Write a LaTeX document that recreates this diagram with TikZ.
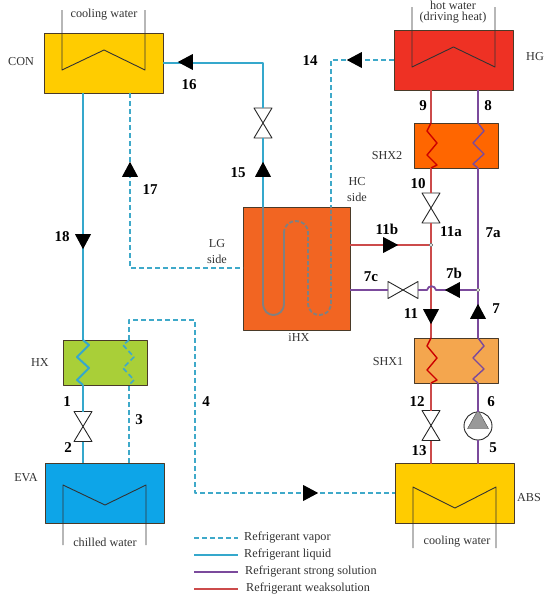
\documentclass[tikz,border=0pt]{standalone}
\usepackage{fontspec}
\setmainfont{Liberation Serif}
\usetikzlibrary{calc,shapes.geometric}
\definecolor{vapc}{HTML}{3FA9C9}
\definecolor{liqc}{HTML}{35A8CC}
\definecolor{strc}{HTML}{7B4A9C}
\definecolor{wkc}{HTML}{CC4B4B}
\definecolor{edgec}{HTML}{4A3A28}
\definecolor{txtc}{HTML}{333333}
\tikzset{schem/.style={
  x=1pt,y=-1pt,line join=round,
  vap/.style={vapc,line width=1.7pt,dash pattern=on 5pt off 3pt},
  liq/.style={liqc,line width=2pt},
  strong/.style={strc,line width=1.8pt},
  weak/.style={wkc,line width=1.8pt},
  unit/.style={draw=edgec,line width=1pt,inner sep=0pt,outer sep=0pt},
  large/.style={unit,minimum width=119pt,minimum height=60pt},
  small/.style={unit,minimum width=84pt,minimum height=45pt},
  coil/.style={draw=black!80,line width=0.9pt},
  valvenode/.style={inner sep=0pt,outer sep=0pt,minimum width=18pt,minimum height=30pt},
  valveline/.style={draw=black!85,line width=0.9pt},
  tipnode/.style={isosceles triangle,isosceles triangle stretches,fill=black,inner sep=0pt,
    minimum height=15pt,minimum width=16pt},
  joint/.style={circle,draw=black!60,fill=white,inner sep=0pt,minimum size=3.5pt,line width=0.4pt},
  lbl/.style={font=\fontsize{12.2}{14}\selectfont,text=txtc,inner sep=0pt},
  num/.style={font=\fontsize{15}{17}\selectfont\bfseries,inner sep=0pt}
}}

\begin{document}
\begin{tikzpicture}[schem]
  \useasboundingbox (0,0) rectangle (544,600);

  % main units
  \node[large,fill={rgb,255:red,255;green,204;blue,0}] (CON) at (103.5,63) {};
  \node[large,fill={rgb,255:red,238;green,49;blue,36}] (HG) at (453.5,60) {};
  \node[large,fill={rgb,255:red,13;green,165;blue,232}] (EVA) at (104.5,493) {};
  \node[large,fill={rgb,255:red,255;green,204;blue,0}] (ABS) at (454.5,493.5) {};
  \node[small,fill={rgb,255:red,255;green,102;blue,0}] (SHX2) at (456,145.5) {};
  \node[small,fill={rgb,255:red,244;green,166;blue,78}] (SHX1) at (456,360.5) {};
  \node[small,fill={rgb,255:red,169;green,207;blue,56}] (HX) at (105,362.5) {};
  \node[unit,fill={rgb,255:red,242;green,101;blue,34},minimum width=107pt,minimum height=123pt] (iHX) at (296.5,268.5) {};

  % coils
  \draw[coil] (62,10)--(62,70)--(104,50)--(145,70)--(145,10);
  \draw[coil] (412,7)--(412,67)--(453.5,47)--(495,67)--(495,7);
  \draw[coil] (63,545)--(63,485)--(105,505)--(146,485)--(146,545);
  \draw[coil] (413,548)--(413,487)--(455,508)--(496,487)--(496,548);

  % valves and pump
  \node[valvenode] (v1) at (83,426.5) {};
  \node[valvenode] (v15) at (263,123) {};
  \node[valvenode] (v10) at (431,208) {};
  \node[valvenode] (v12) at (431,425.5) {};
  \node[valvenode,minimum width=30pt,minimum height=17pt] (v7c) at (403,290) {};
  \node[circle,draw=black!85,fill=white,line width=0.9pt,inner sep=0pt,outer sep=0pt,minimum size=28pt] (pump) at (478,426) {};
  \node[isosceles triangle,isosceles triangle stretches,draw=black!70,fill=black!40,rotate=90,inner sep=0pt,
    minimum height=19pt,minimum width=21pt] (pumptri) at (478,422.5) {};
  \foreach \v in {v1,v15,v10,v12}
    \draw[valveline] (\v.north west)--(\v.south east)--(\v.south west)--(\v.north east)--cycle;
  \draw[valveline] (v7c.north west)--(v7c.south east)--(v7c.north east)--(v7c.south west)--cycle;

  % junctions
  \coordinate (hxaT) at (83,340);
  \coordinate (hxaB) at (83,385);
  \coordinate (hxbT) at (129,340);
  \coordinate (hxbB) at (129,385);
  \coordinate (shbT) at (431,123);
  \coordinate (shbB) at (431,168);
  \coordinate (shsT) at (478,123);
  \coordinate (shsB) at (478,168);
  \coordinate (sawT) at (431,338);
  \coordinate (sawB) at (431,383);
  \coordinate (sasT) at (478,338);
  \coordinate (sasB) at (478,383);
  \coordinate (lgT) at (263,207);
  \coordinate (hcT) at (331,207);
  \coordinate (c14) at (331,60);
  \coordinate (c16) at (263,63);
  \coordinate (c17a) at (130,93);
  \coordinate (c17b) at (130,268);
  \coordinate (c4a) at (129,320);
  \coordinate (c4b) at (195,320);
  \coordinate (c4c) at (195,493);
  \coordinate (hopL) at (427,290);
  \coordinate (hopR) at (436,290);
  \node[joint] (j11) at (431,245) {};
  \node[joint] (j7) at (478,290) {};

  % refrigerant liquid and vapor
  \draw[liq] (CON.south -| hxaT) -- (hxaT);
  \draw[liq] (hxaB) -- (v1);
  \draw[liq] (v1) -- (EVA.north -| v1);
  \draw[liq] (CON.east) -- (c16) -- (v15);
  \draw[liq] (v15) -- (lgT);
  \draw[liq] (hxaT) -- ++(6,5) -- ++(-12,12) -- ++(12,11) -- ++(-12,12) -- (hxaB);
  \draw[vap] (HG.west |- c14) -- (c14) -- (hcT);
  \draw[vap] (CON.south -| c17a) -- (c17b) -- (iHX.west |- c17b);
  \draw[vap] (EVA.north -| hxbB) -- (hxbB);
  \draw[vap] (hxbT) -- ++(-6,5) -- ++(11,12) -- ++(-11,11) -- ++(11,12) -- (hxbB);
  \draw[vap] (hxbT) -- (c4a) -- (c4b) -- (c4c) -- (ABS.west |- c4c);

  % serpentine of iHX
  \draw[gray,line width=1.9pt] (lgT) -- (263,303) .. controls (263,319) and (284,319) .. (284,303) -- (284,233);
  \draw[gray,line width=1.9pt,dash pattern=on 4pt off 2pt] (284,233) .. controls (284,217) and (308,217) .. (308,233)
    -- (308,303) .. controls (308,319) and (331,319) .. (331,303) -- (hcT);

  % solution lines
  \draw[weak] (HG.south -| shbT) -- (shbT);
  \draw[weak] (shbB) -- (v10);
  \draw[weak] (v10) -- (j11);
  \draw[weak] (j11) -- (sawT);
  \draw[weak] (iHX.east |- j11) -- (j11);
  \draw[weak] (sawB) -- (v12);
  \draw[weak] (v12) -- (ABS.north -| v12);
  \draw[strong] (HG.south -| shsT) -- (shsT);
  \draw[strong] (shsB) -- (j7);
  \draw[strong] (j7) -- (sasT);
  \draw[strong] (j7) -- (hopR) .. controls (435,285) and (428,285) .. (hopL) -- (v7c);
  \draw[strong] (v7c) -- (iHX.east |- v7c);
  \draw[strong] (sasB) -- (pump);
  \draw[strong] (pump) -- (ABS.north -| pump);
  \draw[red!80!black,line width=1.4pt] (shbT) -- ++(-4,8) -- ++(10,12) -- ++(-10,12) -- ++(10,10) -- (shbB);
  \draw[strc,line width=1.4pt] (shsT) -- ++(6,8) -- ++(-11,12) -- ++(11,11) -- ++(-11,10) -- (shsB);
  \draw[red!80!black,line width=1.4pt] (sawT) -- ++(-4,8) -- ++(10,12) -- ++(-10,12) -- ++(10,10) -- (sawB);
  \draw[strc,line width=1.4pt] (sasT) -- ++(6,8) -- ++(-11,12) -- ++(11,11) -- ++(-11,10) -- (sasB);
  \node[joint] at (j11) {};
  \node[joint] at (j7) {};

  % flow direction
  \node[tipnode,rotate=180] (a16) at (188,62) {};
  \node[tipnode,rotate=90] (a17) at (130,172) {};
  \node[tipnode,rotate=90] (a15) at (263,172) {};
  \node[tipnode,rotate=-90] (a18) at (83,239) {};
  \node[tipnode,rotate=180] (a14) at (357,60) {};
  \node[tipnode] (a11b) at (388,245) {};
  \node[tipnode,rotate=180] (a7b) at (455,290) {};
  \node[tipnode,rotate=-90] (a11) at (431,314) {};
  \node[tipnode,rotate=90] (a7) at (478,314) {};
  \node[tipnode] (a4) at (308,493) {};

  % state points
  \foreach \t/\x/\y in {1/67/402,2/68/448,3/139/420,4/206/402,5/493/448,6/491/402,7/496/309,
      8/488/106,9/423/106,10/418/184,11/411/314,12/417/402,13/419/451,14/310/61,15/238/173,
      16/189/85,17/150/190,18/62/237,7a/493/233,7b/454/273,7c/371/277,11a/451/232,11b/387/229}
    \node[num] (n\t) at (\x,\y) {\t};

  % labels
  \node[lbl] (lcw1) at (104,15) {cooling water};
  \node[lbl] (lhw1) at (453,5) {hot water};
  \node[lbl] (lhw2) at (453,18) {(driving heat)};
  \node[lbl] (lchw) at (105,542) {chilled water};
  \node[lbl] (lcw2) at (457,542) {cooling water};
  \node[lbl] (lCON) at (21,62) {CON};
  \node[lbl,anchor=west] (lHG) at (526,57) {HG};
  \node[lbl] (lSHX2) at (387,156) {SHX2};
  \node[lbl] (lSHX1) at (388,362) {SHX1};
  \node[lbl] (lHX) at (40,362) {HX};
  \node[lbl] (lEVA) at (26,478) {EVA};
  \node[lbl] (lABS) at (529,498) {ABS};
  \node[lbl] (liHX) at (299,337) {iHX};
  \node[lbl] (lHC) at (357,182) {HC};
  \node[lbl] (lHCs) at (357,197) {side};
  \node[lbl] (lLG) at (217,244) {LG};
  \node[lbl] (lLGs) at (217,259) {side};

  % legend
  \foreach \i/\y/\xt/\st/\txt in {1/538/244/vap/Refrigerant vapor,2/555/244/liq/Refrigerant liquid,
      3/572/245/strong/Refrigerant strong solution,4/589/246/weak/Refrigerant weaksolution}{
    \coordinate (k\i) at (194,\y);
    \node[lbl,anchor=west] (t\i) at (\xt,\y) {\txt};
    \draw[\st] (k\i) -- ++(44,0);
  }
\end{tikzpicture}
\end{document}
